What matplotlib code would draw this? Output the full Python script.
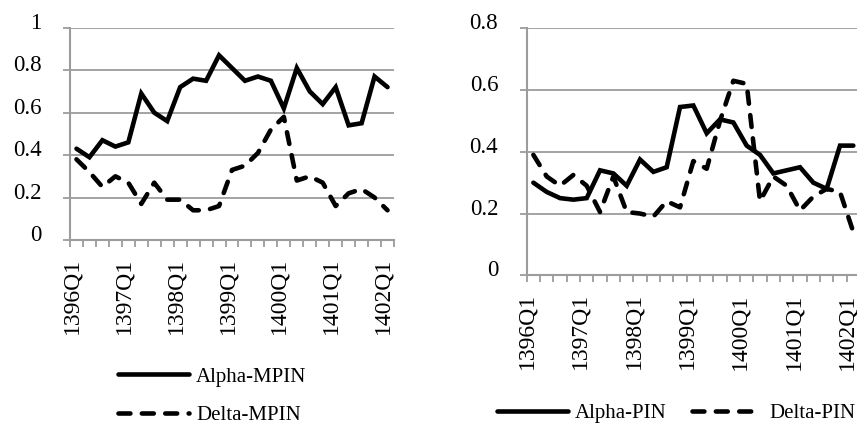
import matplotlib
matplotlib.use("Agg")
import matplotlib.pyplot as plt
import matplotlib.transforms as mtransforms
from matplotlib.lines import Line2D
from matplotlib.ticker import FuncFormatter, MultipleLocator

# Trimestri (calendario persiano)
quarters = ["1396Q1", "1396Q2", "1396Q3", "1396Q4",
            "1397Q1", "1397Q2", "1397Q3", "1397Q4",
            "1398Q1", "1398Q2", "1398Q3", "1398Q4",
            "1399Q1", "1399Q2", "1399Q3", "1399Q4",
            "1400Q1", "1400Q2", "1400Q3", "1400Q4",
            "1401Q1", "1401Q2", "1401Q3", "1401Q4",
            "1402Q1"]
shown_labels = ["1396Q1", "1397Q1", "1398Q1", "1399Q1", "1400Q1", "1401Q1", "1402Q1"]

# Grafico sinistro: MPIN
alpha_mpin = [0.43, 0.39, 0.47, 0.44, 0.46, 0.69, 0.60, 0.56, 0.72, 0.76, 0.75, 0.87, 0.81,
              0.75, 0.77, 0.75, 0.62, 0.81, 0.70, 0.64, 0.72, 0.54, 0.55, 0.77, 0.72]
delta_mpin = [0.38, 0.32, 0.25, 0.30, 0.27, 0.17, 0.27, 0.19, 0.19, 0.14, 0.14, 0.16, 0.33,
              0.35, 0.41, 0.52, 0.58, 0.28, 0.30, 0.27, 0.16, 0.22, 0.24, 0.20, 0.14]

# Grafico destro: PIN
alpha_pin = [0.30, 0.27, 0.25, 0.245, 0.25, 0.34, 0.33, 0.29, 0.375, 0.335, 0.35, 0.545, 0.55,
             0.46, 0.505, 0.495, 0.42, 0.39, 0.33, 0.34, 0.35, 0.30, 0.28, 0.42, 0.42]
delta_pin = [0.39, 0.32, 0.29, 0.325, 0.29, 0.205, 0.32, 0.205, 0.20, 0.19, 0.24, 0.22, 0.37,
             0.345, 0.50, 0.63, 0.62, 0.24, 0.32, 0.29, 0.21, 0.255, 0.28, 0.27, 0.14]

plt.rcParams['font.family'] = ['Liberation Serif', 'DejaVu Serif']

GRID = '#9c9c9c'
LW = 3.3
DASH = (0, (2.6, 2.5))

fig = plt.figure(figsize=(8.57, 4.28), dpi=100)
ax1 = fig.add_axes([70 / 857, 1 - 240 / 428, 324 / 857, 212.3 / 428])
ax2 = fig.add_axes([526.7 / 857, 1 - 275.3 / 428, 333.3 / 857, 247 / 428])


def style_axis(ax, ymax, shift):
    x = list(range(len(quarters)))
    ax.set_xlim(-0.5, len(quarters) - 0.5)
    ax.set_ylim(0, ymax)
    ax.yaxis.set_major_locator(MultipleLocator(0.2))
    ax.yaxis.set_major_formatter(FuncFormatter(lambda v, p: f'{v:g}'))
    ax.grid(axis='y', color=GRID, linewidth=1.3)
    ax.set_axisbelow(True)
    for s in ['top', 'right']:
        ax.spines[s].set_visible(False)
    for s in ['left', 'bottom']:
        ax.spines[s].set_color(GRID)
        ax.spines[s].set_linewidth(1.5)
    # etichette ogni 4 trimestri, tacche tra le categorie
    pos = [quarters.index(q) for q in shown_labels]
    ax.set_xticks(pos)
    ax.set_xticklabels(shown_labels, rotation=90, fontsize=17)
    ax.set_xticks([i - 0.5 for i in range(len(quarters) + 1)], minor=True)
    ax.tick_params(axis='x', which='major', length=0, pad=13)
    ax.tick_params(axis='x', which='minor', length=5, width=1.3, color=GRID)
    ax.tick_params(axis='y', length=5, width=1.3, color=GRID, pad=15.5, labelsize=16.5)
    off_x = mtransforms.ScaledTranslation(shift / 100, 0, fig.dpi_scale_trans)
    for lab in ax.get_xticklabels():
        lab.set_transform(lab.get_transform() + off_x)
    off_y = mtransforms.ScaledTranslation(0, 7 / 100, fig.dpi_scale_trans)
    for lab in ax.get_yticklabels():
        lab.set_transform(lab.get_transform() + off_y)
    return x


x = style_axis(ax1, 1.0, -4.5)
ax1.plot(x, alpha_mpin, color='black', lw=LW, solid_capstyle='round', solid_joinstyle='miter')
ax1.plot(x, delta_mpin, color='black', lw=LW, linestyle=DASH, dash_capstyle='round')

x = style_axis(ax2, 0.8, -6.5)
ax2.plot(x, alpha_pin, color='black', lw=LW, solid_capstyle='round', solid_joinstyle='miter')
ax2.plot(x, delta_pin, color='black', lw=LW, linestyle=DASH, dash_capstyle='round')

# Legende
h_solid = Line2D([], [], color='black', lw=LW, solid_capstyle='round')
h_dash = Line2D([], [], color='black', lw=LW, linestyle=DASH, dash_capstyle='round')

fig.legend([h_solid, h_dash], ['Alpha-MPIN', 'Delta-MPIN'], loc='center left',
           bbox_to_anchor=(118 / 857, 1 - 396 / 428), frameon=False, fontsize=15,
           handlelength=3.4, handletextpad=0.35, labelspacing=0.9,
           borderpad=0, borderaxespad=0)
fig.legend([h_solid, h_dash], ['Alpha-PIN', 'Delta-PIN'], loc='center left',
           bbox_to_anchor=(496.7 / 857, 1 - 413 / 428), frameon=False, fontsize=15, ncol=2,
           handlelength=3.4, handletextpad=0.35, columnspacing=1.2,
           borderpad=0, borderaxespad=0)

fig.savefig('out.png', dpi=100)
